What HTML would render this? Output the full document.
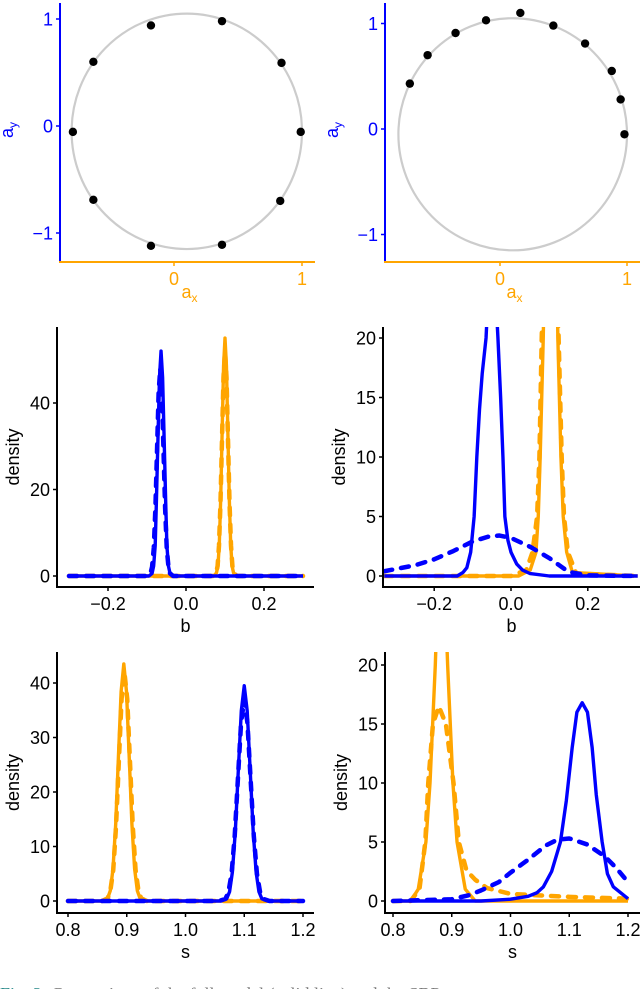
<!DOCTYPE html>
<html><head><meta charset="utf-8"><style>
html,body{margin:0;padding:0;background:#fff;}
svg{display:block;font-family:"Liberation Sans",Arial,sans-serif;}
</style></head><body>
<svg id="fig" width="640" height="989" viewBox="0 0 640 989" xmlns="http://www.w3.org/2000/svg">
<defs>
<clipPath id="c3"><rect x="57" y="327" width="260" height="260"/></clipPath>
<clipPath id="c4"><rect x="383" y="327" width="257" height="260"/></clipPath>
<clipPath id="c5"><rect x="57" y="652" width="260" height="261"/></clipPath>
<clipPath id="c6"><rect x="385" y="652" width="255" height="261"/></clipPath>
</defs>
<text x="0" y="1000" font-family="Liberation Serif, serif" font-size="18" fill="#777"><tspan fill="#2a8a8a">Fig. 2.</tspan> Comparison of the full model (solid line) and the SBP</text>
</svg>
<script>
// ---- Top panels: point data ----
const circleCenter = [0.1, -0.05];
const circleRadii = [0.9, 1.1];
const leftPointsX = [-0.18, 0.375, 0.84, 0.99, 0.83, 0.375, -0.18, -0.63, -0.79, -0.63];
const leftPointsY = [0.94, 0.98, 0.59, -0.055, -0.70, -1.11, -1.12, -0.69, -0.055, 0.60];
const rightPointsX = [-0.71, -0.57, -0.35, -0.11, 0.16, 0.42, 0.67, 0.88, 0.95, 0.98];
const rightPointsY = [0.43, 0.70, 0.91, 1.03, 1.10, 0.98, 0.81, 0.55, 0.28, -0.05];
const topTicksX = [0, 1];
const topTicksY = [-1, 0, 1];

// ---- Middle-left (b, full data) ----
const bL_blueSolidX = [-0.3,-0.095,-0.087,-0.083,-0.079,-0.076,-0.072,-0.068,-0.064,-0.060,-0.056,-0.052,-0.049,-0.045,-0.041,-0.033,0.3];
const bL_blueSolidY = [0,0,0.6,2.3,7,16.9,31.5,45.9,52,45.9,31.5,16.9,7,2.3,0.6,0,0];
const bL_blueDashX = [-0.3,-0.099,-0.091,-0.087,-0.0826,-0.0785,-0.0743,-0.0702,-0.066,-0.0618,-0.0577,-0.0535,-0.0494,-0.045,-0.041,-0.033,0.3];
const bL_blueDashY = [0,0,0.6,2.1,6.5,15.6,29,42.4,48,42.4,29,15.6,6.5,2.1,0.6,0,0];
const bL_orSolidX = [-0.3,0.071,0.078,0.082,0.0854,0.089,0.0927,0.0963,0.1,0.1037,0.1073,0.111,0.1146,0.118,0.122,0.129,0.3];
const bL_orSolidY = [0,0,0.7,2.4,7.4,17.9,33.4,48.5,55,48.5,33.4,17.9,7.4,2.4,0.7,0,0];
const bL_orDashX = [-0.3,0.069,0.077,0.081,0.0846,0.0884,0.0923,0.0961,0.1,0.1039,0.1077,0.1116,0.1154,0.119,0.123,0.131,0.3];
const bL_orDashY = [0,0,0.6,2.3,7,16.9,31.5,45.9,52,45.9,31.5,16.9,7,2.3,0.6,0,0];
const bL_ticksY = [0, 20, 40];
const b_ticksX = [-0.2, 0.0, 0.2];

// ---- Middle-right (b, sparse data) ----
const bR_blueSolidX = [-0.33,-0.14,-0.125,-0.115,-0.105,-0.096,-0.089,-0.082,-0.075,-0.065,-0.05,-0.034,-0.027,-0.021,-0.016,-0.008,0,0.015,0.03,0.05,0.1,0.33];
const bR_blueSolidY = [0,0,0.3,0.7,2,5,10,14,17,20,30,20,15,10,5,3,2,1,0.5,0.2,0,0];
const bR_blueDashX = [-0.33,-0.25,-0.2,-0.15,-0.1,-0.06,-0.03,0,0.05,0.1,0.13,0.15,0.2,0.33];
const bR_blueDashY = [0.4,0.9,1.4,2.1,2.9,3.3,3.4,3.2,2.45,1.5,0.8,0.35,0.05,0];
const bR_orSolidX = [-0.33,0.02,0.05,0.065,0.071,0.076,0.084,0.103,0.122,0.13,0.136,0.145,0.16,0.33];
const bR_orSolidY = [0,0,0.5,2,5,10,20,60,20,10,5,2,0.3,0];
const bR_orDashX = [-0.33,0.0,0.04,0.056,0.068,0.074,0.08,0.102,0.124,0.132,0.138,0.148,0.17,0.33];
const bR_orDashY = [0,0,0.5,2,5,10,20,50,20,10,5,2,0.2,0];
const bR_ticksY = [0, 5, 10, 15, 20];

// ---- Bottom-left (s, full data) ----
const sL_orSolidX = [0.8,0.858,0.8674,0.872,0.8766,0.8812,0.8858,0.8904,0.895,0.8996,0.9042,0.9088,0.9134,0.918,0.9226,0.932,1.2];
const sL_orSolidY = [0,0,0.5,1.9,5.9,14.1,26.4,38.4,43.5,38.4,26.4,14.1,5.9,1.9,0.5,0,0];
const sL_orDashX = [0.8,0.858,0.8675,0.872,0.877,0.8817,0.8865,0.8912,0.896,0.9008,0.9055,0.9103,0.915,0.92,0.9245,0.934,1.2];
const sL_orDashY = [0,0,0.5,1.8,5.7,13.6,25.5,37.1,42,37.1,25.5,13.6,5.7,1.8,0.5,0,0];
const sL_blueSolidX = [0.8,1.06,1.07,1.075,1.0798,1.0848,1.0899,1.095,1.1,1.105,1.1101,1.1152,1.1202,1.125,1.13,1.14,1.2];
const sL_blueSolidY = [0,0,0.4,1.7,5.3,12.8,24,34.9,39.5,34.9,24,12.8,5.3,1.7,0.4,0,0];
const sL_blueDashX = [0.8,1.057,1.068,1.073,1.0784,1.0838,1.0892,1.0946,1.1,1.1054,1.1108,1.1162,1.1216,1.127,1.132,1.143,1.2];
const sL_blueDashY = [0,0,0.4,1.6,5,12,22.4,32.7,37,32.7,22.4,12,5,1.6,0.4,0,0];
const sL_ticksY = [0, 10, 20, 30, 40];
const s_ticksX = [0.8, 0.9, 1.0, 1.1, 1.2];

// ---- Bottom-right (s, sparse data) ----
const sR_orSolidX = [0.8,0.83,0.843,0.856,0.863,0.872,0.882,0.893,0.902,0.909,0.923,0.94,1.2];
const sR_orSolidY = [0,0,1,5,10,20,35,20,10,5,1,0,0];
const sR_orDashX = [0.8,0.83,0.845,0.855,0.86,0.868,0.878,0.89,0.903,0.912,0.925,0.94,0.96,1.0,1.1,1.2];
const sR_orDashY = [0,0,1,5,10,15,16.5,15,10,5,2.6,1.8,1.1,0.6,0.35,0.2];
const sR_blueSolidX = [0.8,0.95,1.0,1.03,1.045,1.056,1.07,1.085,1.095,1.105,1.113,1.122,1.131,1.139,1.146,1.156,1.165,1.175,1.19,1.2];
const sR_blueSolidY = [0,0,0.15,0.4,0.7,1.2,2.5,5,8.5,13,16,16.8,16,13,9,5,2.3,1.2,0.6,0.2];
const sR_blueDashX = [0.8,0.9,0.93,0.95,0.98,1.0,1.03,1.06,1.08,1.1,1.13,1.16,1.18,1.2];
const sR_blueDashY = [0,0.15,0.5,0.9,1.6,2.4,3.5,4.7,5.2,5.3,4.8,3.8,2.8,1.6];
const sR_ticksY = [0, 5, 10, 15, 20];

const NS = 'http://www.w3.org/2000/svg';
const svg = document.getElementById('fig');
const BLUE = '#0000FF', ORANGE = '#FFA500';

function mk(tag, attrs, parent) {
  const e = document.createElementNS(NS, tag);
  for (const k in attrs) e.setAttribute(k, attrs[k]);
  (parent || svg).appendChild(e);
  return e;
}
function lin(d0, d1, r0, r1) { return v => r0 + (v - d0) * (r1 - r0) / (d1 - d0); }

function axes(g, p) {
  const ax = mk('line', {x1: p.ax, y1: p.top, x2: p.ax, y2: p.ay, stroke: p.ycol, 'stroke-width': 2}, g);
  
  
  const bx = mk('line', {x1: p.ax - 1, y1: p.ay, x2: p.right, y2: p.ay, stroke: p.xcol, 'stroke-width': 2}, g);
  
  
  p.ticksY.forEach(v => {
    const y = p.sy(v);
    mk('line', {x1: p.ax - 4, y1: y, x2: p.ax, y2: y, stroke: p.ycol, 'stroke-width': 1.5}, g);
    const t = mk('text', {x: p.ax - 7, y: y + 6.5, 'text-anchor': 'end', 'font-size': 18, fill: p.ycol}, g);
    
    
    t.textContent = String(v).replace('-', '\u2212');
  });
  p.ticksX.forEach(v => {
    const x = p.sx(v);
    mk('line', {x1: x, y1: p.ay, x2: x, y2: p.ay + 4, stroke: p.xcol, 'stroke-width': 1.5}, g);
    const t = mk('text', {x: x, y: p.ay + 23, 'text-anchor': 'middle', 'font-size': 18, fill: p.xcol}, g);
    
    
    t.textContent = (p.fmt ? p.fmt(v) : String(v)).replace('-', '\u2212');
  });
}

function curve(g, p, xs, ys, col, dashed, name) {
  const d = xs.map((x, i) => (i ? 'L' : 'M') + p.sx(x).toFixed(2) + ',' + p.sy(ys[i]).toFixed(2)).join('');
  const attrs = {d: d, fill: 'none', stroke: col, 'stroke-width': dashed ? 4.5 : 3.4, 'stroke-linejoin': 'round'};
  if (dashed) { attrs['stroke-dasharray'] = '8,9'; attrs['stroke-linecap'] = 'round'; }
  if (p.clip) attrs['clip-path'] = 'url(#' + p.clip + ')';
  const e = mk('path', attrs, g);
  
  
}

function label(g, x, y, txt, rot, col, name, sub) {
  const t = mk('text', {x: x, y: y, 'text-anchor': 'middle', 'font-size': 18, fill: col}, g);
  if (rot) t.setAttribute('transform', 'rotate(-90 ' + x + ' ' + y + ')');
  
  
  t.textContent = txt;
  if (sub) {
    const s = mk('tspan', {'font-size': 12, dy: 4}, t);
    s.textContent = sub;
  }
}

// Top panels
function topPanel(name, sx, sy, ax, right, px, py) {
  const g = mk('g', {});
  
  
  const p = {sx, sy, ax, ay: 262, top: 3, right, ycol: BLUE, xcol: ORANGE, ticksX: topTicksX, ticksY: topTicksY};
  const cx = sx(circleCenter[0]), cy = sy(circleCenter[1]);
  const rx = Math.abs(sx(circleCenter[0] + circleRadii[0]) - cx);
  const ry = Math.abs(sy(circleCenter[1] + circleRadii[1]) - cy);
  const el = mk('ellipse', {cx, cy, rx, ry, fill: 'none', stroke: '#CCCCCC', 'stroke-width': 2.2}, g);
  
  
  px.forEach((x, i) => {
    const c = mk('circle', {cx: sx(x), cy: sy(py[i]), r: 4.2, fill: '#000'}, g);
    
    
  });
  axes(g, p);
  label(g, (ax + right) / 2 + 2, 298, 'a', false, ORANGE, 'x-axis-title', 'x');
  label(g, ax - 47, 130, 'a', true, BLUE, 'y-axis-title', 'y');
}
topPanel('panel-anchors-full', lin(0, 1, 174, 302), lin(0, 1, 126, 19), 60, 315, leftPointsX, leftPointsY);
topPanel('panel-anchors-sparse', lin(0, 1, 500, 627), lin(0, 1, 129, 23.5), 385, 640, rightPointsX, rightPointsY);

function densPanel(name, p, series, xtitle) {
  const g = mk('g', {});
  
  
  p.ycol = '#000'; p.xcol = '#000';
  series.forEach(s => curve(g, p, s[0], s[1], s[2], s[3], s[4]));
  axes(g, p);
  label(g, (p.ax + p.right) / 2, p.ay + 45, xtitle, false, '#000', 'x-axis-title');
  label(g, p.ax - 38, (p.top + p.ay) / 2, 'density', true, '#000', 'y-axis-title');
}
const fmt1 = v => v.toFixed(1);

densPanel('panel-b-full', {sx: lin(0, 0.2, 186, 264), sy: lin(0, 40, 576, 403), ax: 57, ay: 587, top: 327, right: 314, ticksX: b_ticksX, ticksY: bL_ticksY, fmt: fmt1, clip: 'c3'}, [
  [bL_orSolidX, bL_orSolidY, ORANGE, false, 'b-full-orange-solid'],
  [bL_orDashX, bL_orDashY, ORANGE, true, 'b-full-orange-dashed'],
  [bL_blueSolidX, bL_blueSolidY, BLUE, false, 'b-full-blue-solid'],
  [bL_blueDashX, bL_blueDashY, BLUE, true, 'b-full-blue-dashed']], 'b');

densPanel('panel-b-sparse', {sx: lin(0, 0.2, 511, 587.8), sy: lin(0, 20, 576, 338), ax: 383, ay: 587, top: 327, right: 640, ticksX: b_ticksX, ticksY: bR_ticksY, fmt: fmt1, clip: 'c4'}, [
  [bR_orSolidX, bR_orSolidY, ORANGE, false, 'b-sparse-orange-solid'],
  [bR_orDashX, bR_orDashY, ORANGE, true, 'b-sparse-orange-dashed'],
  [bR_blueSolidX, bR_blueSolidY, BLUE, false, 'b-sparse-blue-solid'],
  [bR_blueDashX, bR_blueDashY, BLUE, true, 'b-sparse-blue-dashed']], 'b');

densPanel('panel-s-full', {sx: lin(0.8, 1.2, 68, 303), sy: lin(0, 40, 901, 683), ax: 57, ay: 913, top: 652, right: 314, ticksX: s_ticksX, ticksY: sL_ticksY, fmt: fmt1, clip: 'c5'}, [
  [sL_orSolidX, sL_orSolidY, ORANGE, false, 's-full-orange-solid'],
  [sL_orDashX, sL_orDashY, ORANGE, true, 's-full-orange-dashed'],
  [sL_blueSolidX, sL_blueSolidY, BLUE, false, 's-full-blue-solid'],
  [sL_blueDashX, sL_blueDashY, BLUE, true, 's-full-blue-dashed']], 's');

densPanel('panel-s-sparse', {sx: lin(0.8, 1.2, 393, 628), sy: lin(0, 20, 901, 665), ax: 385, ay: 913, top: 652, right: 640, ticksX: s_ticksX, ticksY: sR_ticksY, fmt: fmt1, clip: 'c6'}, [
  [sR_orSolidX, sR_orSolidY, ORANGE, false, 's-sparse-orange-solid'],
  [sR_orDashX, sR_orDashY, ORANGE, true, 's-sparse-orange-dashed'],
  [sR_blueSolidX, sR_blueSolidY, BLUE, false, 's-sparse-blue-solid'],
  [sR_blueDashX, sR_blueDashY, BLUE, true, 's-sparse-blue-dashed']], 's');
</script>
</body></html>
